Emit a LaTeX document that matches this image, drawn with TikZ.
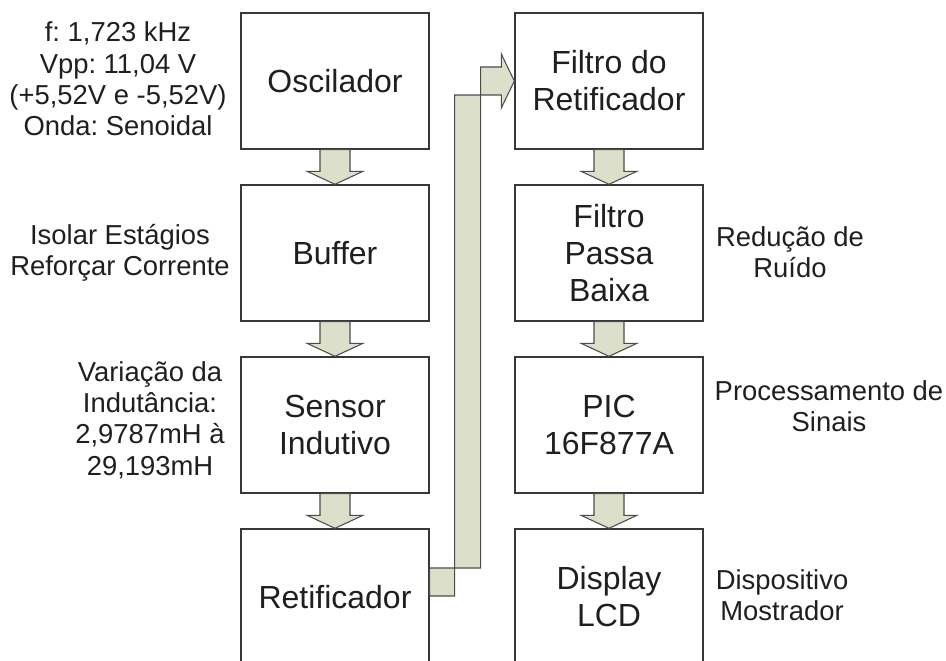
\documentclass[tikz,border=0pt]{standalone}
\usepackage{fontspec}
\setsansfont{Liberation Sans}
\frenchspacing
\usetikzlibrary{calc}
\definecolor{arrowgreen}{RGB}{220,224,202}

\begin{document}
\begin{tikzpicture}[x=0.02cm,y=0.02cm]
\tikzset{
  stage/.style={rectangle,draw=black!78,line width=0.8pt,minimum width=3.76cm,minimum height=2.72cm,
    align=center,inner sep=2pt,font=\sffamily\fontsize{18.2}{21}\selectfont,text=black!88},
  note/.style={align=center,inner sep=0pt,font=\sffamily\fontsize{15.6}{17.8}\selectfont,text=black!88},
  blockarrow/.style={fill=arrowgreen,draw=black!70,line width=0.6pt,line join=miter}
}
\newcommand{\flowarrow}[2]{%
  \filldraw[blockarrow] ($(#1.south)+(-15,0)$) -- ($(#1.south)+(15,0)$) -- ($(#2.north)+(15,13)$)
    -- ($(#2.north)+(28,13)$) -- (#2.north) -- ($(#2.north)+(-28,13)$) -- ($(#2.north)+(-15,13)$) -- cycle;}
\useasboundingbox (0,0) rectangle (946,661);
\clip (0,0) rectangle (946,661);
% left column
\node[stage] (b_osc) at (335,580) {Oscilador};
\node[stage] (b_buf) at (335,408) {Buffer};
\node[stage] (b_sen) at (335,236) {Sensor\\Indutivo};
\node[stage] (b_ret) at (335,64) {Retificador};
% right column
\node[stage] (b_fre) at (609,580) {Filtro do\\Retificador};
\node[stage] (b_fpb) at (609,408) {Filtro\\Passa\\Baixa};
\node[stage] (b_pic) at (609,236) {PIC\\16F877A};
\node[stage] (b_lcd) at (609,64) {Display\\LCD};
% notes
\node[note] (t_osc) at (118,582) {f: 1,723 kHz\\Vpp: 11,04 V\\(+5,52V e -5,52V)\\Onda: Senoidal};
\node[note] (t_buf) at (120,408) {Isolar Estágios\\Reforçar Corrente};
\node[note] (t_sen) at (150,241) {Variação da\\Indutância:\\2,9787mH à\\29,193mH};
\node[note] (t_fpb) at (790,409) {Redução de\\Ruído};
\node[note] (t_pic) at (829,255) {Processamento de\\Sinais};
\node[note] (t_lcd) at (782,66) {Dispositivo\\Mostrador};
% arrows
\flowarrow{b_osc}{b_buf}
\flowarrow{b_buf}{b_sen}
\flowarrow{b_sen}{b_ret}
\flowarrow{b_fre}{b_fpb}
\flowarrow{b_fpb}{b_pic}
\flowarrow{b_pic}{b_lcd}
\filldraw[blockarrow] ($(b_ret.east)+(0,1)$) -- ++(25,0) |- ($(b_fre.west)+(-13,-14)$) -- ++(0,-13)
  -- (b_fre.west) -- ++(-13,27) -- ++(0,-13) -| ($(b_ret.east)+(51,29)$) -- ++(-51,0) -- cycle;
\end{tikzpicture}
\end{document}
